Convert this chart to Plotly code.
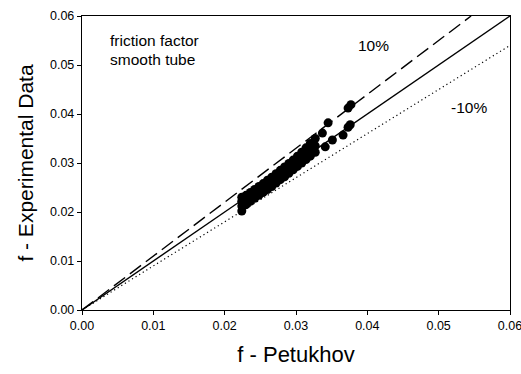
import plotly.graph_objects as go

# Experimental vs Petukhov friction factor
f_petukhov = [
    0.0224, 0.0224, 0.0224, 0.0224,
    0.0230, 0.0230, 0.0230,
    0.0236, 0.0236, 0.0236,
    0.0242, 0.0242, 0.0242,
    0.0248, 0.0248, 0.0248,
    0.0254, 0.0254, 0.0254,
    0.0260, 0.0260, 0.0260,
    0.0266, 0.0266, 0.0266,
    0.0272, 0.0272, 0.0272,
    0.0278, 0.0278, 0.0278,
    0.0284, 0.0284, 0.0284,
    0.0290, 0.0290, 0.0290,
    0.0296, 0.0296, 0.0296,
    0.0302, 0.0302, 0.0302,
    0.0308, 0.0308, 0.0308,
    0.0314, 0.0314, 0.0314,
    0.0320, 0.0320, 0.0320,
    0.0327, 0.0327, 0.0327,
    0.0337, 0.0345, 0.0373, 0.0377,
    0.0341, 0.0351, 0.0366, 0.0373, 0.0376,
]
f_experimental = [
    0.0202, 0.0212, 0.0222, 0.0230,
    0.0215, 0.0225, 0.0234,
    0.0222, 0.0230, 0.0240,
    0.0228, 0.0236, 0.0246,
    0.0234, 0.0242, 0.0252,
    0.0240, 0.0248, 0.0258,
    0.0246, 0.0254, 0.0265,
    0.0252, 0.0261, 0.0271,
    0.0259, 0.0268, 0.0278,
    0.0266, 0.0275, 0.0285,
    0.0272, 0.0282, 0.0292,
    0.0279, 0.0289, 0.0299,
    0.0286, 0.0296, 0.0306,
    0.0293, 0.0303, 0.0314,
    0.0300, 0.0311, 0.0322,
    0.0307, 0.0320, 0.0331,
    0.0314, 0.0328, 0.0340,
    0.0322, 0.0335, 0.0350,
    0.0361, 0.0382, 0.0412, 0.0419,
    0.0333, 0.0347, 0.0357, 0.0373, 0.0378,
]

line_x = [0.0, 0.06]
line_equal = [0.0, 0.06]
line_plus10_x = [0.0, 0.06 / 1.1]
line_plus10_y = [0.0, 0.06]
line_minus10 = [0.0, 0.054]

tick_vals = [0.00, 0.01, 0.02, 0.03, 0.04, 0.05, 0.06]
tick_text = ["0.00", "0.01", "0.02", "0.03", "0.04", "0.05", "0.06"]

fig = go.Figure()
fig.add_trace(go.Scatter(x=line_x, y=line_equal, mode="lines",
                         line=dict(color="black", width=1.4), showlegend=False))
fig.add_trace(go.Scatter(x=line_plus10_x, y=line_plus10_y, mode="lines",
                         line=dict(color="black", width=1.4, dash="14px,6px"), showlegend=False))
fig.add_trace(go.Scatter(x=line_x, y=line_minus10, mode="lines",
                         line=dict(color="black", width=1.2, dash="1.2px,3px"), showlegend=False))
fig.add_trace(go.Scatter(x=f_petukhov, y=f_experimental, mode="markers",
                         marker=dict(color="black", size=9), showlegend=False))

font_family = "Liberation Sans, Arial, sans-serif"
ann_font = dict(size=15.5, color="black", family=font_family)
fig.add_annotation(x=0.0037, y=0.0551, xref="x", yref="y", text="friction factor",
                   showarrow=False, xanchor="left", yanchor="middle", font=ann_font)
fig.add_annotation(x=0.0037, y=0.0512, xref="x", yref="y", text="smooth tube",
                   showarrow=False, xanchor="left", yanchor="middle", font=ann_font)
fig.add_annotation(x=0.0408, y=0.0539, xref="x", yref="y", text="10%",
                   showarrow=False, xanchor="center", yanchor="middle", font=ann_font)
fig.add_annotation(x=0.0515, y=0.0414, xref="x", yref="y", text="-10%",
                   showarrow=False, xanchor="left", yanchor="middle", font=ann_font)

axis_common = dict(range=[0, 0.06], tickvals=tick_vals, ticktext=tick_text,
                   showgrid=False, zeroline=False, showline=True, linecolor="black",
                   linewidth=1.4, mirror=True, ticks="outside", ticklen=4, tickwidth=1.2,
                   tickcolor="black", ticklabeloverflow="allow", automargin=False,
                   tickfont=dict(size=12.5, color="black", family=font_family))

fig.update_xaxes(**axis_common,
                 title=dict(text="f - Petukhov", font=dict(size=22, color="black", family=font_family),
                            standoff=14))
fig.update_yaxes(**axis_common,
                 title=dict(text="f - Experimental Data", font=dict(size=21, color="black", family=font_family),
                            standoff=10))

fig.update_layout(width=521, height=374, margin=dict(l=82, r=11, t=16, b=64),
                  plot_bgcolor="white", paper_bgcolor="white")

fig.write_html("out.html")
